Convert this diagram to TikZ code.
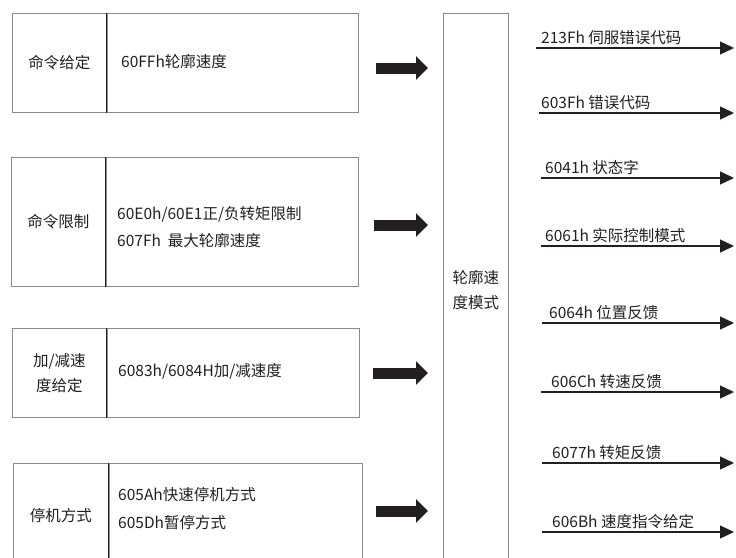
\documentclass[tikz,border=0pt]{standalone}
\usepackage{fontspec}
\setmainfont{Noto Sans CJK SC}
\usepackage{tikz}
\usetikzlibrary{positioning,arrows.meta}
\usepackage{xcolor}
\definecolor{boxline}{HTML}{8A8A8A}
\definecolor{ink}{HTML}{231F20}

\begin{document}
\begin{tikzpicture}[x=1pt, y=-1pt, every node/.style={font=\fontsize{15.5pt}{26pt}\selectfont, text=ink}]
\tikzstyle{cell}=[draw=boxline, line width=0.8pt, inner sep=0pt, anchor=north west, align=center]
\tikzstyle{desc}=[anchor=west, align=left, inner sep=0pt]
\tikzstyle{bigarrow}=[ink, line width=11pt, -{Triangle[length=12pt,width=23pt]}, shorten >=15pt]
\tikzstyle{outarrow}=[ink, line width=1.2pt, -{Triangle[length=14pt,width=13pt]}]
\tikzstyle{outlabel}=[anchor=base west, inner sep=0pt]
\useasboundingbox (0,0) rectangle (736,557);
\clip (0,0) rectangle (736,557);

\node[cell, minimum width=94pt, minimum height=99pt] (c1) at (12,13) {命令给定};
\node[cell, minimum width=251pt, minimum height=99pt] (d1) at (c1.north east) {};
\node[cell, minimum width=94pt, minimum height=129pt] (c2) at (11,157) {命令限制};
\node[cell, minimum width=252pt, minimum height=129pt] (d2) at (c2.north east) {};
\node[cell, minimum width=94pt, minimum height=89pt] (c3) at (12,328) {加/减速\\[-1pt]度给定};
\node[cell, minimum width=252pt, minimum height=89pt] (d3) at (c3.north east) {};
\node[cell, minimum width=95pt, minimum height=104pt] (c4) at (13,463) {停机方式};
\node[cell, minimum width=253pt, minimum height=104pt] (d4) at (c4.north east) {};
\draw[ink, line width=0.8pt] (c1.north east) -- (c1.south east);
\draw[ink, line width=0.8pt] (c2.north east) -- (c2.south east);
\draw[ink, line width=0.8pt] (c3.north east) -- (c3.south east);
\draw[ink, line width=0.8pt] (c4.north east) -- (c4.south east);

\node[desc] (t1) at (121,62) {60FFh轮廓速度};
\node[desc] (t2) at (117,227.5) {60E0h/60E1正/负转矩限制\\[1pt]607Fh\ \ 最大轮廓速度};
\node[desc] (t3) at (118,371) {6083h/6084H加/减速度};
\node[desc] (t4) at (118,509) {605Ah快速停机方式\\[2pt]605Dh暂停方式};

\node[cell, minimum width=65pt, minimum height=554pt] (mode) at (443,13) {轮廓速\\[-1pt]度模式};

\coordinate (a1) at (376,68);
\coordinate (a2) at (374,225);
\coordinate (a3) at (373,373);
\coordinate (a4) at (376,511);
\draw[bigarrow] (a1) -- (a1 -| mode.west);
\draw[bigarrow] (a2) -- (a2 -| mode.west);
\draw[bigarrow] (a3) -- (a3 -| mode.west);
\draw[bigarrow] (a4) -- (a4 -| mode.west);

\coordinate (s1) at (536,48);  \coordinate (e1) at (734,48);
\coordinate (s2) at (539,113); \coordinate (e2) at (734,113);
\coordinate (s3) at (541,178); \coordinate (e3) at (734,178);
\coordinate (s4) at (541,246); \coordinate (e4) at (734,246);
\coordinate (s5) at (542,323); \coordinate (e5) at (734,323);
\coordinate (s6) at (541,392); \coordinate (e6) at (734,392);
\coordinate (s7) at (542,463); \coordinate (e7) at (734,463);
\coordinate (s8) at (542,532); \coordinate (e8) at (734,532);
\draw[outarrow] (s1) -- (e1);
\draw[outarrow] (s2) -- (e2);
\draw[outarrow] (s3) -- (e3);
\draw[outarrow] (s4) -- (e4);
\draw[outarrow] (s5) -- (e5);
\draw[outarrow] (s6) -- (e6);
\draw[outarrow] (s7) -- (e7);
\draw[outarrow] (s8) -- (e8);
\node[outlabel] (l1) at (541,43) {213Fh 伺服错误代码};
\node[outlabel] (l2) at (541,108) {603Fh 错误代码};
\node[outlabel] (l3) at (545,173) {6041h 状态字};
\node[outlabel] (l4) at (545,241) {6061h 实际控制模式};
\node[outlabel] (l5) at (549,318) {6064h 位置反馈};
\node[outlabel] (l6) at (551,387) {606Ch 转速反馈};
\node[outlabel] (l7) at (552,458) {6077h 转矩反馈};
\node[outlabel] (l8) at (552,527) {606Bh 速度指令给定};
\end{tikzpicture}
\end{document}
